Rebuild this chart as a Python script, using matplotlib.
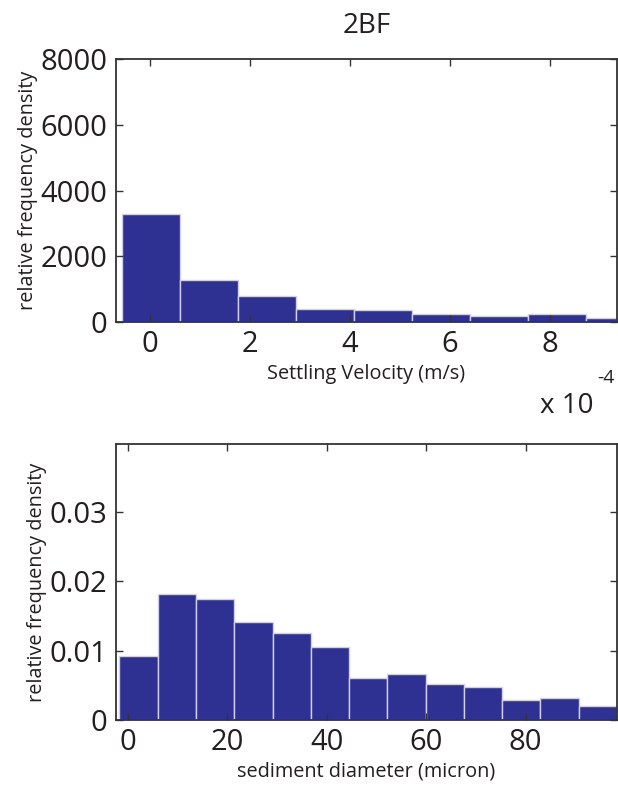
import numpy as np
import matplotlib
matplotlib.use("Agg")
import matplotlib.pyplot as plt
from matplotlib.ticker import FixedLocator, FuncFormatter

plt.rcParams['font.family'] = ['Open Sans', 'DejaVu Sans']

# Settling velocity histogram (bins in units of 1e-4 m/s)
vel_bin_start = -0.56
vel_bin_width = 1.16
vel_density = [3300, 1270, 785, 388, 378, 247, 187, 232, 125]

# Sediment diameter histogram (bins in micron)
dia_bin_start = -1.7
dia_bin_width = 7.7
dia_density = [0.00924, 0.01810, 0.01748, 0.01416, 0.01252, 0.01054,
               0.00607, 0.00669, 0.00515, 0.00481, 0.00284, 0.00318, 0.00207]

vel_ticks = [0, 2, 4, 6, 8]
vel_yticks = [0, 2000, 4000, 6000, 8000]
dia_ticks = [0, 20, 40, 60, 80]
dia_yticks = [0, 0.01, 0.02, 0.03]

BAR = '#2E3192'
EDGE = '#d0d0ee'
INK = '#231f20'
TICK_FS = 21
LABEL_FS = 14.3

fig = plt.figure(figsize=(6.18, 7.87), dpi=100)
W, H = 618, 787


def add_axes_px(left, top, right, bottom):
    return fig.add_axes([left / W, 1 - bottom / H, (right - left) / W, (bottom - top) / H])


def style(ax):
    for s in ax.spines.values():
        s.set_linewidth(1.3)
        s.set_color('#333333')
    ax.tick_params(direction='in', length=5, width=1.0, color='#333333',
                   top=True, right=True, labelsize=TICK_FS, labelcolor=INK, pad=6)


def draw_hist(ax, start, width, values):
    n = len(values)
    lefts = start + width * np.arange(n)
    ax.bar(lefts, values, width=width, align='edge', color=BAR,
           edgecolor=EDGE, linewidth=1.0)


# Top: settling velocity
ax1 = add_axes_px(116, 59, 617, 322)
draw_hist(ax1, vel_bin_start, vel_bin_width, vel_density)
ax1.set_xlim(-0.67, 9.34)
ax1.set_ylim(0, 8000)
ax1.xaxis.set_major_locator(FixedLocator(vel_ticks))
ax1.yaxis.set_major_locator(FixedLocator(vel_yticks))
ax1.yaxis.set_major_formatter(FuncFormatter(lambda v, p: f'{v:.0f}'))
style(ax1)
ax1.set_xlabel('Settling Velocity (m/s)', fontsize=LABEL_FS, color=INK, labelpad=3)
ax1.set_ylabel('relative frequency density', fontsize=LABEL_FS, color=INK, labelpad=2)
ax1.set_title('2BF', fontsize=20, color=INK, pad=19)
fig.text(540 / W, 1 - 413 / H, 'x 10', fontsize=20, color=INK, ha='left', va='baseline')
fig.text(597 / W, 1 - 383 / H, '-4', fontsize=14, color=INK, ha='left', va='baseline')

# Bottom: sediment diameter
ax2 = add_axes_px(116, 444, 617, 720)
draw_hist(ax2, dia_bin_start, dia_bin_width, dia_density)
ax2.set_xlim(-2.4, 98.4)
ax2.set_ylim(0, 0.0398)
ax2.xaxis.set_major_locator(FixedLocator(dia_ticks))
ax2.yaxis.set_major_locator(FixedLocator(dia_yticks))
ax2.yaxis.set_major_formatter(FuncFormatter(lambda v, p: '0' if v == 0 else f'{v:.2f}'))
style(ax2)
ax2.set_xlabel('sediment diameter (micron)', fontsize=LABEL_FS, color=INK, labelpad=3)
ax2.set_ylabel('relative frequency density', fontsize=LABEL_FS, color=INK, labelpad=2)

fig.savefig('out.png', dpi=100)
